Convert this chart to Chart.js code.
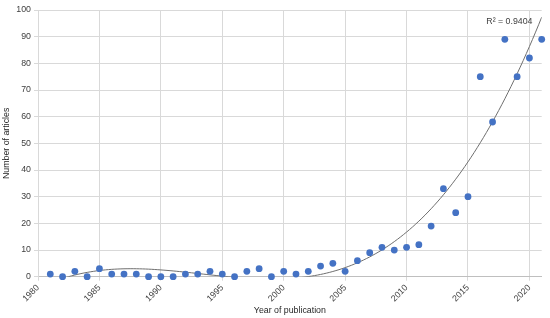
<!DOCTYPE html>
<html>
<head>
<meta charset="utf-8">
<script src="https://cdn.jsdelivr.net/npm/chart.js@4"></script>
<style>
    html, body { margin: 0; padding: 0; background: #fff; }
    #wrap { width: 550px; height: 318px; position: relative; }
</style>
</head>
<body>
<div id="wrap"><canvas id="chart"></canvas></div>
<script>
// Data
const years = [
    1981, 1982, 1983, 1984, 1985, 1986, 1987, 1988, 1989, 1990,
    1991, 1992, 1993, 1994, 1995, 1996, 1997, 1998, 1999, 2000,
    2001, 2002, 2003, 2004, 2005, 2006, 2007, 2008, 2009, 2010,
    2011, 2012, 2013, 2014, 2015, 2016, 2017, 2018, 2019, 2020, 2021
];
const articles = [
    1, 0, 2, 0, 3, 1, 1, 1, 0, 0,
    0, 1, 1, 2, 1, 0, 2, 3, 0, 2,
    1, 2, 4, 5, 2, 6, 9, 11, 10, 11,
    12, 19, 33, 24, 30, 75, 58, 89, 75, 82, 89
];
const rSquaredLabel = 'R² = 0.9404';
const xTitle = 'Year of publication';
const yTitle = 'Number of articles';

const FONT = '"Liberation Sans", Arial, sans-serif';
const TEXT = '#404040';

/**
 * Least squares polynomial fit (same thing as the spreadsheet trendline)
 */
function polyFit(xs, ys, order) {
    const n = order + 1;
    const x0 = xs.reduce((s, v) => s + v, 0) / xs.length;
    const A = [];
    for (let i = 0; i < n; i++) {
        A.push(new Array(n + 1).fill(0));
    }
    xs.forEach((xv, k) => {
        const t = xv - x0;
        for (let i = 0; i < n; i++) {
            for (let j = 0; j < n; j++) {
                A[i][j] += Math.pow(t, i + j);
            }
            A[i][n] += Math.pow(t, i) * ys[k];
        }
    });
    // gaussian elimination
    for (let c = 0; c < n; c++) {
        let p = c;
        for (let r = c + 1; r < n; r++) {
            if (Math.abs(A[r][c]) > Math.abs(A[p][c])) p = r;
        }
        [A[c], A[p]] = [A[p], A[c]];
        for (let r = 0; r < n; r++) {
            if (r === c) continue;
            const f = A[r][c] / A[c][c];
            for (let j = c; j <= n; j++) A[r][j] -= f * A[c][j];
        }
    }
    const coef = A.map((row, i) => row[n] / row[i]);
    return (xv) => coef.reduce((s, a, i) => s + a * Math.pow(xv - x0, i), 0);
}

const fit = polyFit(years, articles, 3);
const trendPoints = [];
for (let x = years[0]; x <= years[years.length - 1] + 0.001; x += 0.25) {
    trendPoints.push({ x: x, y: fit(x) });
}

// R² text drawn next to the trendline end
const r2Label = {
    id: 'r2Label',
    afterDatasetsDraw(chart) {
        const { ctx, scales } = chart;
        ctx.save();
        ctx.font = '8.8px ' + FONT;
        ctx.fillStyle = TEXT;
        ctx.textAlign = 'right';
        ctx.textBaseline = 'middle';
        ctx.fillText(rSquaredLabel, scales.x.getPixelForValue(2020.25), scales.y.getPixelForValue(95.5));
        ctx.restore();
    }
};

new Chart(document.getElementById('chart'), {
    type: 'scatter',
    data: {
        datasets: [
            {
                label: 'Articles',
                data: years.map((y, i) => ({ x: y, y: articles[i] })),
                backgroundColor: '#4472C4',
                borderColor: '#4472C4',
                borderWidth: 0,
                pointRadius: 3.4,
                pointHoverRadius: 3.4,
                clip: false
            },
            {
                label: 'Trend',
                type: 'line',
                data: trendPoints,
                borderColor: '#6f6f6f',
                borderWidth: 1,
                pointRadius: 0,
                fill: false,
                tension: 0
            }
        ]
    },
    options: {
        responsive: true,
        maintainAspectRatio: false,
        animation: false,
        layout: {
            padding: { top: 10, right: 8.3, left: 0, bottom: 0 }
        },
        plugins: {
            legend: { display: false },
            tooltip: { enabled: false }
        },
        scales: {
            x: {
                type: 'linear',
                min: 1980,
                max: 2021,
                afterFit: (scale) => { scale.height = 41.3; },
                border: { color: '#bfbfbf' },
                grid: { color: '#d9d9d9', tickLength: 4 },
                ticks: {
                    stepSize: 5,
                    includeBounds: false,
                    maxRotation: 45,
                    minRotation: 45,
                    padding: 2,
                    color: TEXT,
                    font: { family: FONT, size: 8.8 },
                    callback: (v) => String(v)
                },
                title: {
                    display: true,
                    text: xTitle,
                    color: '#262626',
                    font: { family: FONT, size: 8.8 },
                    padding: { top: 2, bottom: 2 }
                }
            },
            y: {
                min: 0,
                max: 100,
                afterFit: (scale) => { scale.width = 38; },
                border: { color: '#d9d9d9' },
                grid: { color: '#d9d9d9', tickLength: 4 },
                ticks: {
                    stepSize: 10,
                    padding: 3,
                    color: TEXT,
                    font: { family: FONT, size: 8.8 }
                },
                title: {
                    display: true,
                    text: yTitle,
                    color: '#262626',
                    font: { family: FONT, size: 8.8 },
                    padding: 1
                }
            }
        }
    },
    plugins: [r2Label]
});
</script>
</body>
</html>
